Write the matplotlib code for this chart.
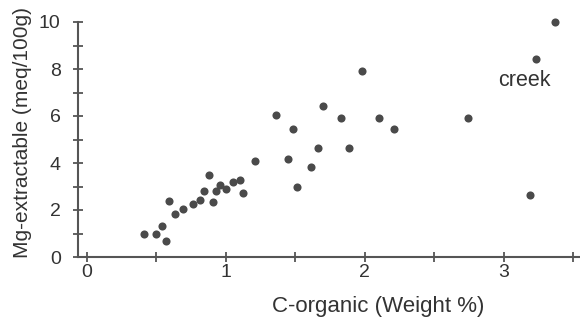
import matplotlib
matplotlib.use("Agg")
import matplotlib.pyplot as plt

c_organic = [0.41, 0.50, 0.54, 0.57, 0.59, 0.63, 0.69, 0.76, 0.81, 0.84,
             0.88, 0.91, 0.93, 0.96, 1.00, 1.05, 1.10, 1.12, 1.21, 1.36,
             1.48, 1.45, 1.51, 1.61, 1.66, 1.70, 1.83, 1.89, 1.98, 2.10,
             2.21, 2.74, 3.19, 3.23, 3.37]
mg_extractable = [0.97, 0.97, 1.30, 0.68, 2.39, 1.82, 2.04, 2.25, 2.44, 2.79,
                  3.49, 2.32, 2.82, 3.05, 2.91, 3.18, 3.29, 2.72, 4.10, 6.04,
                  5.46, 4.15, 2.96, 3.82, 4.63, 6.42, 5.91, 4.63, 7.92, 5.91,
                  5.46, 5.91, 2.62, 8.42, 10.0]
x_ticks = [0, 0.5, 1, 1.5, 2, 2.5, 3, 3.5]
x_labels = ["0", "", "1", "", "2", "", "3", ""]
y_ticks = list(range(0, 11))
y_labels = ["0", "", "2", "", "4", "", "6", "", "8", "", "10"]
annotation = ("creek", 2.96, 7.53)

plt.rcParams['font.family'] = ['Liberation Sans', 'DejaVu Sans']
fig = plt.figure(figsize=(5.8, 3.22), dpi=100)
ax = fig.add_axes([78/580, 1-257/322, 502/580, 235/322])

axis_col = "#555555"
text_col = "#333333"
ax.scatter(c_organic, mg_extractable, s=34, color="#4a4a4a", zorder=3, clip_on=False, linewidths=0)
ax.set_xlim(-0.065, 3.55)
ax.set_ylim(0, 10)
for s in ["top", "right"]:
    ax.spines[s].set_visible(False)
for s in ["left", "bottom"]:
    ax.spines[s].set_color(axis_col)
    ax.spines[s].set_linewidth(1.5)
ax.set_xticks(x_ticks)
ax.set_xticklabels(x_labels)
ax.set_yticks(y_ticks)
ax.set_yticklabels(y_labels)
ax.tick_params(axis="both", direction="inout", length=7, width=1.3, color=axis_col,
               labelsize=14, labelcolor=text_col)
ax.tick_params(axis="x", pad=1.5)
ax.tick_params(axis="y", pad=9)
ax.set_xlabel("C-organic (Weight %)", fontsize=16, color=text_col)
ax.xaxis.set_label_coords(0.597, -0.165)
ax.set_ylabel("Mg-extractable (meq/100g)", fontsize=15, color=text_col)
ax.yaxis.set_label_coords(-0.092, 0.53)
ax.text(annotation[1], annotation[2], annotation[0], fontsize=15.5, color=text_col,
        ha="left", va="center")
fig.savefig("out.png", dpi=100)
